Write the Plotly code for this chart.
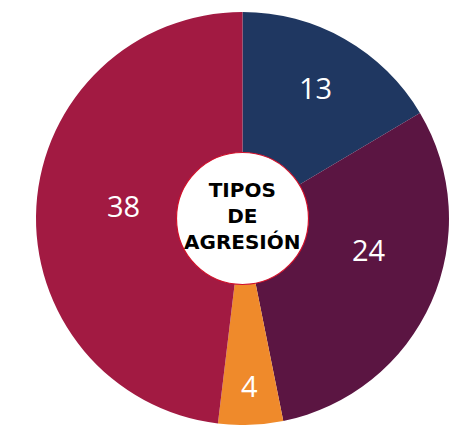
import math
import plotly.graph_objects as go

# ---- data ----
categories = ["Tipo A", "Tipo B", "Tipo C", "Tipo D"]
values = [13, 24, 4, 38]
center_label = "TIPOS<br>DE<br>AGRESIÓN"

# ---- style ----
colors = ["#1f3761", "#5b1542", "#ef8a2b", "#a21a42"]
label_radius_px = [148, 131, 169, 120]      # radial distance of each value label
label_angle_shift = [0, -9.5, 0, 1.9]       # degrees, small shift from slice bisector

# page has an 8px body margin; figure is sized to fit the window
W, H = 450, 417
mt = 4
plot_h = H - mt
cx_px, r_px = 234.5, 206.5
cy_px = mt + plot_h / 2
hole_r_px = 66

fig = go.Figure(go.Pie(
    labels=categories,
    values=values,
    sort=False,
    direction="clockwise",
    rotation=0,
    hole=hole_r_px / r_px,
    marker=dict(colors=colors, line=dict(width=0)),
    textinfo="none",
    domain=dict(x=[(cx_px - r_px) / W, (cx_px + r_px) / W], y=[0, 1]),
    showlegend=False,
    hoverinfo="label+value",
))

# value labels placed at the slice angles derived from the data
total = sum(values)
cum = 0
for v, rr, shift in zip(values, label_radius_px, label_angle_shift):
    mid = (cum + v / 2) / total * 360 + shift
    cum += v
    a = math.radians(mid)
    px = cx_px + rr * math.sin(a)
    py = cy_px - rr * math.cos(a)
    fig.add_annotation(x=px / W, y=1 - (py - mt) / plot_h, xref="paper", yref="paper",
                       xanchor="center", yanchor="middle",
                       text=str(v), showarrow=False, yshift=2,
                       font=dict(family="Open Sans", size=29, color="white", weight=500))

cx = cx_px / W
cy = 0.5
rx = hole_r_px / W
ry = hole_r_px / plot_h
fig.add_shape(type="circle", xref="paper", yref="paper",
              x0=cx - rx, x1=cx + rx, y0=cy - ry, y1=cy + ry,
              fillcolor="white", line=dict(color="#d0102a", width=1.2), layer="above")
fig.add_annotation(x=cx, y=cy, xref="paper", yref="paper", text=center_label,
                   xanchor="center", yanchor="middle",
                   showarrow=False, align="center", yshift=3,
                   font=dict(family="DejaVu Sans", size=20, color="black", weight="bold"))

fig.update_layout(width=W, height=H, margin=dict(l=0, r=0, t=mt, b=0),
                  paper_bgcolor="white", plot_bgcolor="white")
fig.write_html("out.html")
